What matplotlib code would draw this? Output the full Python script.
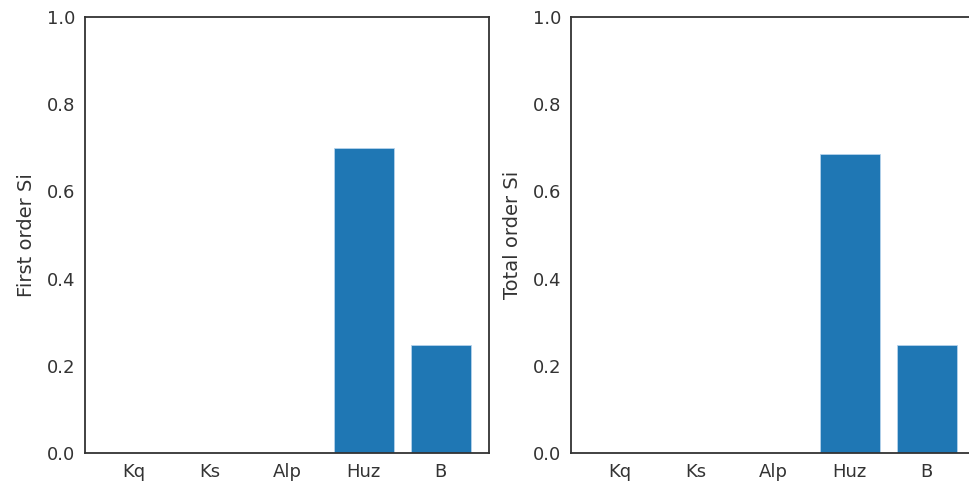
import numpy as np
import matplotlib
matplotlib.use("Agg")
import matplotlib.pyplot as plt
import seaborn as sns

sns.set_style("white")
plt.rcParams["font.family"] = ["DejaVu Sans"]

params = ["Kq", "Ks", "Alp", "Huz", "B"]
first_si = [0.0, 0.0, 0.0, 0.70, 0.248]
total_si = [0.0, 0.0, 0.0, 0.686, 0.248]

W, H = 969, 482
fig = plt.figure(figsize=(W / 100, H / 100), dpi=100)

# axes boxes in pixels (left, top, right, bottom); right panel runs past the edge
boxes = [(85, 17, 489, 453), (571, 17, 975, 453)]
ylabels = ["First order Si", "Total order Si"]

for (l, t, r, b), vals, lab in zip(boxes, [first_si, total_si], ylabels):
    ax = fig.add_axes([l / W, 1 - b / H, (r - l) / W, (b - t) / H])
    ax.bar(params, vals, width=0.78, color="#1f77b4", edgecolor="#b5d3ec", linewidth=0.6)
    ax.set_ylim(0, 1.0)
    ax.set_ylabel(lab, fontsize=14, color="#333333", labelpad=8)
    ax.tick_params(labelsize=13, colors="#333333")
    for s in ax.spines.values():
        s.set_color("#333333")
        s.set_linewidth(1.3)

fig.savefig("out.png", dpi=100)
